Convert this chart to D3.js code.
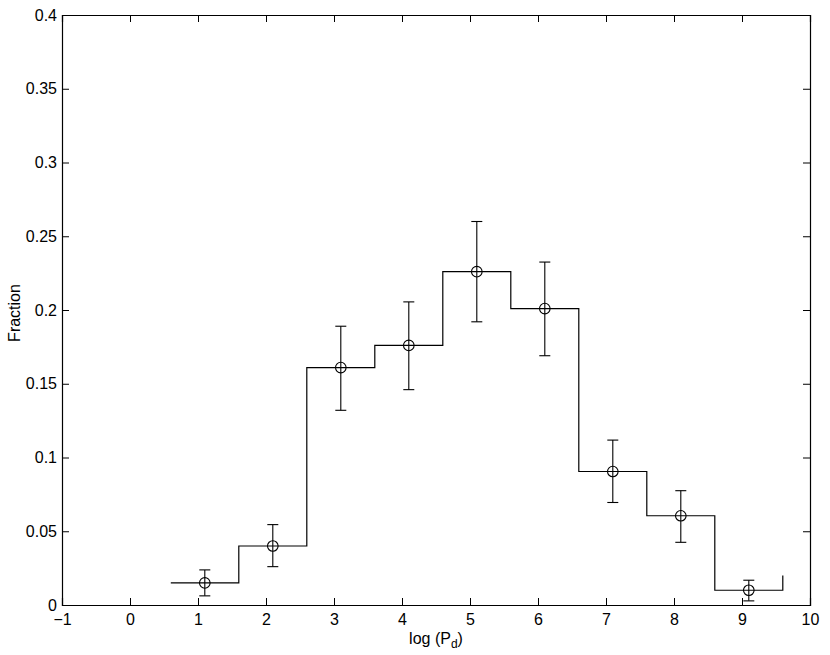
<!DOCTYPE html>
<html><head><meta charset="utf-8">
<script src="https://cdn.jsdelivr.net/npm/d3@7"></script>
<style>body{margin:0;background:#fff;} svg{display:block;} text{font-family:"Liberation Sans",Arial,sans-serif;}</style>
</head><body>
<script>
const binCenters = [1.1, 2.1, 3.1, 4.1, 5.1, 6.1, 7.1, 8.1, 9.1];
const fractions  = [0.015, 0.040, 0.161, 0.176, 0.226, 0.201, 0.0905, 0.0605, 0.010];
const errLow     = [0.0062, 0.026, 0.132, 0.146, 0.192, 0.169, 0.0695, 0.0425, 0.0028];
const errHigh    = [0.0238, 0.0545, 0.189, 0.2055, 0.260, 0.2325, 0.1118, 0.0775, 0.0168];
const stepEdges  = [0.6, 1.6, 2.6, 3.6, 4.6, 5.6, 6.6, 7.6, 8.6, 9.6];
const stepValues = [0.015, 0.040, 0.161, 0.176, 0.226, 0.201, 0.0905, 0.0605, 0.010, 0.020];
const xTicks = [-1,0,1,2,3,4,5,6,7,8,9,10];
const yTicks = [0,0.05,0.1,0.15,0.2,0.25,0.3,0.35,0.4];

const W=830,H=655;
const m={left:62,right:20,top:15,bottom:50};
const svg=d3.select("body").append("svg").attr("width",W).attr("height",H);
const x=d3.scaleLinear().domain([-1,10]).range([m.left,W-m.right]);
const y=d3.scaleLinear().domain([0,0.4]).range([H-m.bottom,m.top]);
const fs=16, tl=7;

const g=svg.append("g");
const bx=g.append("g").attr("transform",`translate(0,${y(0)})`)
  .call(d3.axisBottom(x).tickValues(xTicks).tickSize(-tl).tickPadding(9).tickFormat(d=>d<0?"\u2212"+(-d):d));
const tx=g.append("g").attr("transform",`translate(0,${y(0.4)})`)
  .call(d3.axisTop(x).tickValues(xTicks).tickSize(-tl).tickFormat(""));
const ly=g.append("g").attr("transform",`translate(${x(-1)},0)`)
  .call(d3.axisLeft(y).tickValues(yTicks).tickSize(-tl).tickPadding(5).tickFormat(d=>d===0?"0":String(d)));
const ry=g.append("g").attr("transform",`translate(${x(10)},0)`)
  .call(d3.axisRight(y).tickValues(yTicks).tickSize(-tl).tickFormat(""));
[bx,tx,ly,ry].forEach(a=>{
  a.selectAll(".domain").attr("stroke","#000").attr("stroke-width",1.2);
  a.selectAll(".tick line").attr("stroke","#000").attr("stroke-width",1);
  a.selectAll("text").attr("font-size",fs).attr("fill","#000").attr("font-family","Liberation Sans, Arial, sans-serif");
});

const stepData=[];
stepEdges.forEach((e,i)=>{
  if(i<stepEdges.length-1){stepData.push([e,stepValues[i]]);stepData.push([stepEdges[i+1],stepValues[i]]);}
  else {stepData.push([e,stepValues[i]]);}
});
g.append("path").datum(stepData)
  .attr("d",d3.line().x(d=>x(d[0])).y(d=>y(d[1])))
  .attr("fill","none").attr("stroke","#000").attr("stroke-width",1.2);

const cap=5.5;
binCenters.forEach((c,i)=>{
  const cx=x(c);
  g.append("line").attr("x1",cx).attr("x2",cx).attr("y1",y(errLow[i])).attr("y2",y(errHigh[i])).attr("stroke","#000").attr("stroke-width",1.1);
  [errLow[i],errHigh[i]].forEach(v=>{
    g.append("line").attr("x1",cx-cap).attr("x2",cx+cap).attr("y1",y(v)).attr("y2",y(v)).attr("stroke","#000").attr("stroke-width",1.1);
  });
  g.append("circle").attr("cx",cx).attr("cy",y(fractions[i])).attr("r",5.3).attr("fill","none").attr("stroke","#000").attr("stroke-width",1.1);
});

const xl=svg.append("text").attr("x",x(4.5)).attr("y",H-11).attr("text-anchor","middle").attr("font-size",fs).attr("fill","#000");
xl.append("tspan").text("log (P");
xl.append("tspan").attr("font-size",12).attr("dy",4).text("d");
xl.append("tspan").attr("dy",-4).text(")");
svg.append("text").attr("transform",`translate(20,${y(0.2)+3}) rotate(-90)`).attr("text-anchor","middle").attr("font-size",fs).attr("fill","#000").text("Fraction");
</script>
</body></html>
